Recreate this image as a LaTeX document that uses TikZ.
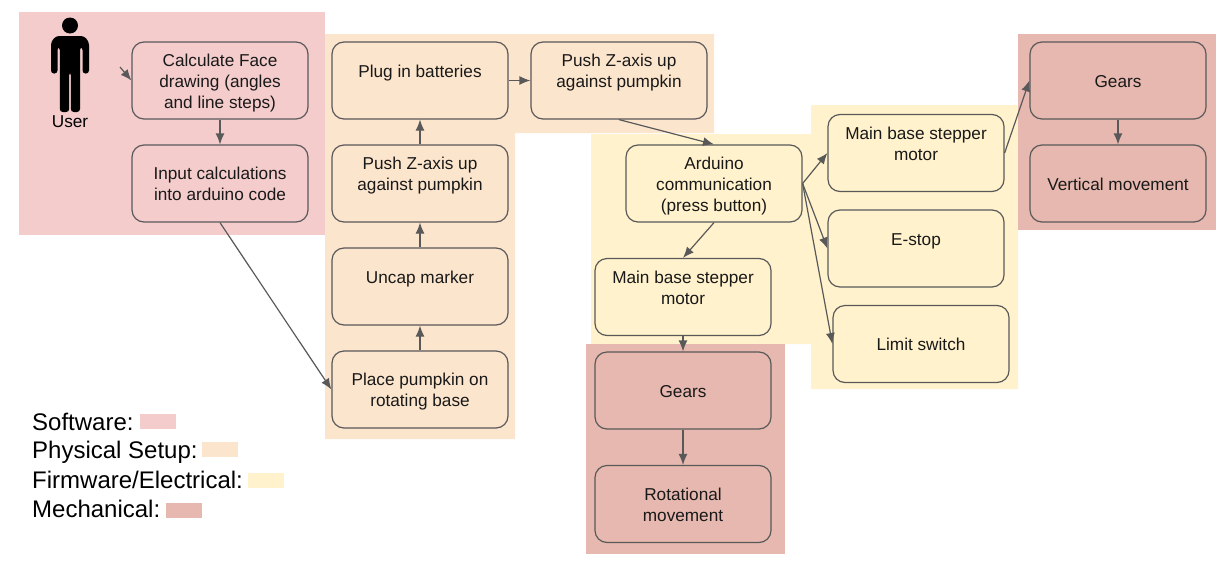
\documentclass[tikz,border=0pt]{standalone}
\usepackage{fontspec}
\setmainfont{Liberation Sans}
\usetikzlibrary{arrows.meta}

\definecolor{softcol}{HTML}{F4CCCC}
\definecolor{physcol}{HTML}{FCE5CD}
\definecolor{firmcol}{HTML}{FFF2CC}
\definecolor{mechcol}{HTML}{E6B8AF}
\definecolor{linecol}{HTML}{595959}

\newcommand{\lowtext}[1]{\rule{0pt}{#1pt}}

\tikzset{
    stepbox/.style={draw=linecol, line width=1.2pt, rounded corners=12pt, inner sep=0pt,
        minimum width=176pt, minimum height=77pt, align=center,
        font=\fontsize{17.2}{21}\selectfont, text=black!90},
    legendtext/.style={anchor=west, inner sep=0pt, font=\fontsize{24}{26}\selectfont},
    swatch/.style={inner sep=0pt, minimum width=36pt, minimum height=15pt},
    flow/.style={draw=linecol, line width=1.2pt, -{Latex[length=11pt,width=9pt]}}
}

\begin{document}
\begin{tikzpicture}[x=1pt,y=-1pt]
    \useasboundingbox (0,0) rectangle (1222,565);

    % coloured areas
    \fill[softcol] (19,12) rectangle (325,235);
    \fill[physcol] (325,34) -- (714,34) -- (714,133) -- (515,133) -- (515,439) -- (325,439) -- cycle;
    \fill[firmcol] (591,134) -- (811,134) -- (811,105) -- (1018,105) -- (1018,389) -- (811,389) -- (811,344) -- (591,344) -- cycle;
    \fill[mechcol] (586,344) rectangle (785,554);
    \fill[mechcol] (1018,34) rectangle (1216,230);

    % user figure
    \fill[black] (70,25.5) circle (8);
    \fill[black, rounded corners=3pt] (51,73.5) -- (51,42) -- (56,36) -- (84,36) -- (89,42) -- (89,73.5)
        -- (82.5,73.5) -- (82.5,47) -- (80,47) -- (80,112) -- (70.8,112) -- (70.8,72) -- (69.2,72)
        -- (69.2,112) -- (59.8,112) -- (59.8,47) -- (57.5,47) -- (57.5,73.5) -- cycle;
    \node[inner sep=0pt, font=\fontsize{17.2}{21}\selectfont] (user) at (70,122) {User};
    \coordinate (userout) at (120,67);

    % software
    \node[stepbox] (calc) at (220,80.5) {\lowtext{18}Calculate Face\\drawing (angles\\and line steps)};
    \node[stepbox] (input) at (220,183.5) {\lowtext{14}Input calculations\\into arduino code};

    % physical setup
    \node[stepbox] (plug) at (420,80.5) {Plug in batteries\\[-3pt]~};
    \node[stepbox] (pushleft) at (420,183.5) {Push Z-axis up\\against pumpkin\\[-1pt]~};
    \node[stepbox] (uncap) at (420,286.5) {Uncap marker\\[-3pt]~};
    \node[stepbox] (place) at (420,389.5) {\lowtext{16}Place pumpkin on\\rotating base};
    \node[stepbox] (pushright) at (619,80.5) {Push Z-axis up\\against pumpkin\\[-1pt]~};

    % firmware and electrical
    \node[stepbox] (arduino) at (714,183.5) {\lowtext{17}Arduino\\communication\\(press button)};
    \node[stepbox] (mainleft) at (683,297) {Main base stepper\\motor\\[-2pt]~};
    \node[stepbox] (mainright) at (916,153) {Main base stepper\\motor\\[-2pt]~};
    \node[stepbox] (estop) at (916,248.5) {E-stop\\[-3pt]~};
    \node[stepbox] (limit) at (921,344) {Limit switch};

    % mechanical
    \node[stepbox] (gearsleft) at (683,390.5) {\lowtext{15}Gears};
    \node[stepbox] (rotation) at (683,504) {\lowtext{14}Rotational\\movement};
    \node[stepbox] (gearsright) at (1118,80.5) {\lowtext{15}Gears};
    \node[stepbox] (vertical) at (1118,183.5) {\lowtext{15}Vertical movement};

    % connectors
    \draw[flow] (userout) -- (calc.west);
    \draw[flow] (calc) -- (input);
    \draw[flow] (input.south) -- (place.west);
    \draw[flow] (place) -- (uncap);
    \draw[flow] (uncap) -- (pushleft);
    \draw[flow] (pushleft) -- (plug);
    \draw[flow] (plug) -- (pushright);
    \draw[flow] (pushright.south) -- (arduino.north);
    \draw[flow] (arduino.east) -- (mainright.west);
    \draw[flow] (arduino.east) -- (estop.west);
    \draw[flow] (arduino.east) -- (limit.west);
    \draw[flow] (arduino.south) -- (mainleft.north);
    \draw[flow] (mainleft) -- (gearsleft);
    \draw[flow] (gearsleft) -- (rotation);
    \draw[flow] (mainright.east) -- (gearsright.west);
    \draw[flow] (gearsright) -- (vertical);

    % legend
    \node[legendtext] (software) at (32,421.5) {Software:};
    \node[legendtext] (physical) at (32,452.5) {Physical Setup:};
    \node[legendtext] (firmware) at (32,480) {Firmware/Electrical:};
    \node[legendtext] (mechanical) at (32,509) {Mechanical:};
    \node[swatch, fill=softcol] (softswatch) at (158,421.5) {};
    \node[swatch, fill=physcol] (physswatch) at (220,449.5) {};
    \node[swatch, fill=firmcol] (firmswatch) at (265.5,480.5) {};
    \node[swatch, fill=mechcol] (mechswatch) at (183.5,510.5) {};
\end{tikzpicture}
\end{document}
